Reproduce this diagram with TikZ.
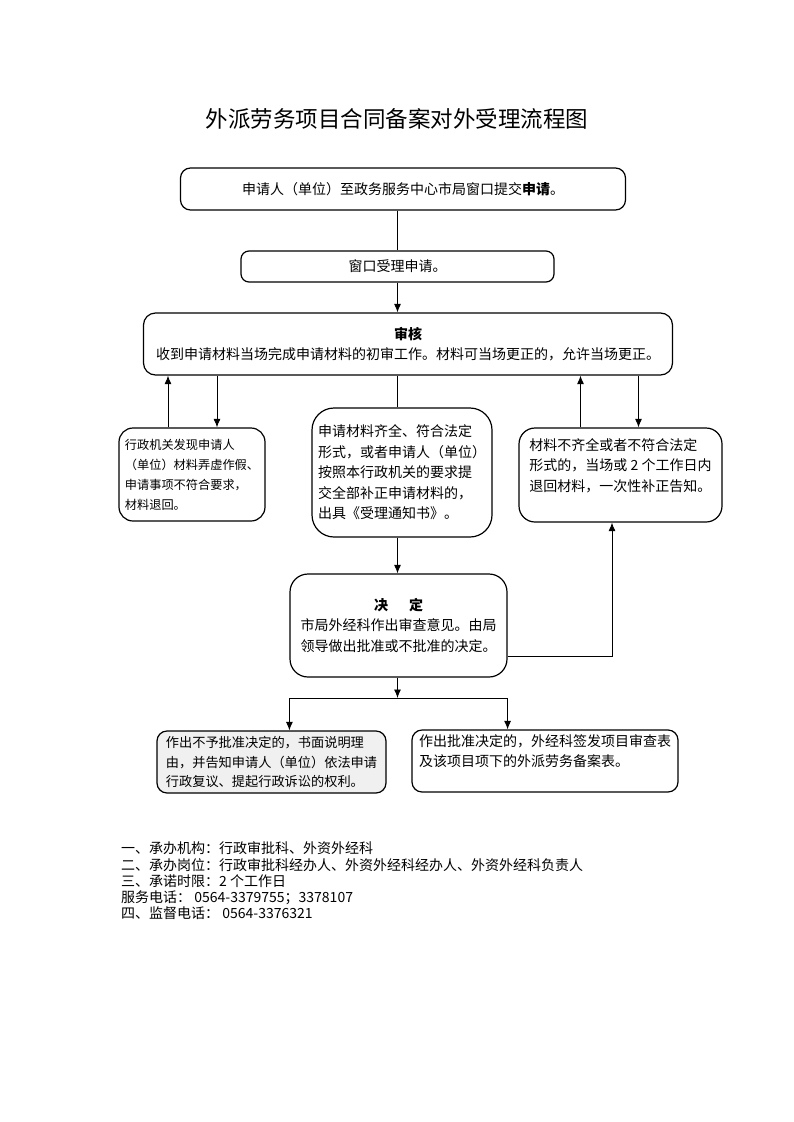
\documentclass[tikz,border=0pt]{standalone}
\usepackage{fontspec}
\setmainfont{Noto Sans CJK SC}
\usetikzlibrary{positioning,arrows.meta}

\tikzstyle{block} = [draw, rectangle, rounded corners=10pt, line width=1.2pt, inner sep=0pt, text centered, font=\fontsize{14}{20.5}\selectfont]
\tikzstyle{block2} = [block, align=left]
\tikzstyle{line} = [draw, -{Latex[length=8.5pt,width=7pt]}, line width=0.9pt]
\tikzstyle{line1} = [draw, line width=0.9pt]

\begin{document}
\begin{tikzpicture}[x=1pt, y=1pt, node distance=77.5pt]
    \useasboundingbox (0,0) rectangle (793,-1122);
    % Place nodes
    \node (title) at (397,-119) {\fontsize{22.5}{27}\selectfont 外派劳务项目合同备案对外受理流程图};
    \node [block, align=center, below of=title, node distance=70pt, xshift=6pt, minimum width=445pt, minimum height=42pt] (apply) {申请人（单位）至政务服务中心市局窗口提交\textbf{申请}。};
    \node [block, align=center, below of=apply, xshift=-5.5pt, rounded corners=8pt, minimum width=313pt, minimum height=31pt] (window) {窗口受理申请。};
    \node [block, align=center, below of=window, xshift=10.5pt, rounded corners=12pt, minimum width=529pt, minimum height=62pt] (review) {\textbf{审核}\\收到申请材料当场完成申请材料的初审工作。材料可当场更正的，允许当场更正。};
    \node [block2, below of=review, node distance=128.5pt, xshift=-6pt, rounded corners=22pt, minimum width=180pt, minimum height=129pt] (accept) {申请材料齐全、符合法定\\形式，或者申请人（单位）\\按照本行政机关的要求提\\交全部补正申请材料的，\\出具《受理通知书》。};
    \node [block2, left of=accept, node distance=210pt, yshift=-2pt, rounded corners=14pt, minimum width=146pt, minimum height=93pt, font=\fontsize{12.2}{20}\selectfont] (reject) {行政机关发现申请人\\（单位）材料弄虚作假、\\申请事项不符合要求，\\材料退回。};
    \node [block2, right of=accept, node distance=218.5pt, yshift=-2.5pt, rounded corners=16pt, minimum width=203pt, minimum height=94pt] (supplement) {材料不齐全或者不符合法定\\形式的，当场或 2 个工作日内\\退回材料，一次性补正告知。\\\mbox{}};
    \node [block, align=center, below of=accept, node distance=153pt, xshift=-3.5pt, rounded corners=18pt, minimum width=217pt, minimum height=103pt] (decide) {\textbf{决\hspace{1.5em}定}\\市局外经科作出审查意见。由局\\领导做出批准或不批准的决定。};
    \node [block2, fill=gray!12, below of=decide, node distance=136.5pt, xshift=-127pt, minimum width=229pt, minimum height=62pt, font=\fontsize{13.2}{19.5}\selectfont] (deny) {作出不予批准决定的，书面说明理\\由，并告知申请人（单位）依法申请\\行政复议、提起行政诉讼的权利。};
    \node [block2, below of=decide, node distance=135.5pt, xshift=146.5pt, minimum width=266pt, minimum height=62pt] (approve) {作出批准决定的，外经科签发项目审查表\\及该项目项下的外派劳务备案表。\\\mbox{}};
    \coordinate [below of=decide, node distance=72.5pt, xshift=-1pt] (split);
    \node [anchor=west, align=left, inner sep=0pt, font=\fontsize{14}{16.2}\selectfont] (notes) at (121,-881) {一、承办机构：行政审批科、外资外经科\\二、承办岗位：行政审批科经办人、外资外经科经办人、外资外经科负责人\\三、承诺时限：2 个工作日\\服务电话：~0564-3379755；3378107\\四、监督电话：~0564-3376321};
    % Draw edges
    \draw [line1] (window.north |- apply.south) -- (window.north);
    \draw [line] (window.south) -- (window.south |- review.north);
    \draw [line] ([xshift=-24pt]reject.north) -- ([xshift=-24pt]reject.north |- review.south);
    \draw [line] ([xshift=25pt]reject.north |- review.south) -- ([xshift=25pt]reject.north);
    \draw [line1] (window.south |- review.south) -- (window.south |- accept.north);
    \draw [line] ([xshift=-40pt]supplement.north) -- ([xshift=-40pt]supplement.north |- review.south);
    \draw [line] ([xshift=18pt]supplement.north |- review.south) -- ([xshift=18pt]supplement.north);
    \draw [line] (window.south |- accept.south) -- (window.south |- decide.north);
    \draw [line] ([yshift=-30.5pt]decide.east) -| ([xshift=-8.5pt]supplement.south);
    \draw [line] (window.south |- decide.south) -- (split);
    \draw [line1] (decide.west |- split) -- (decide.east |- split);
    \draw [line] (decide.west |- split) -- (decide.west |- deny.north);
    \draw [line] (decide.east |- split) -- (decide.east |- approve.north);
\end{tikzpicture}
\end{document}
